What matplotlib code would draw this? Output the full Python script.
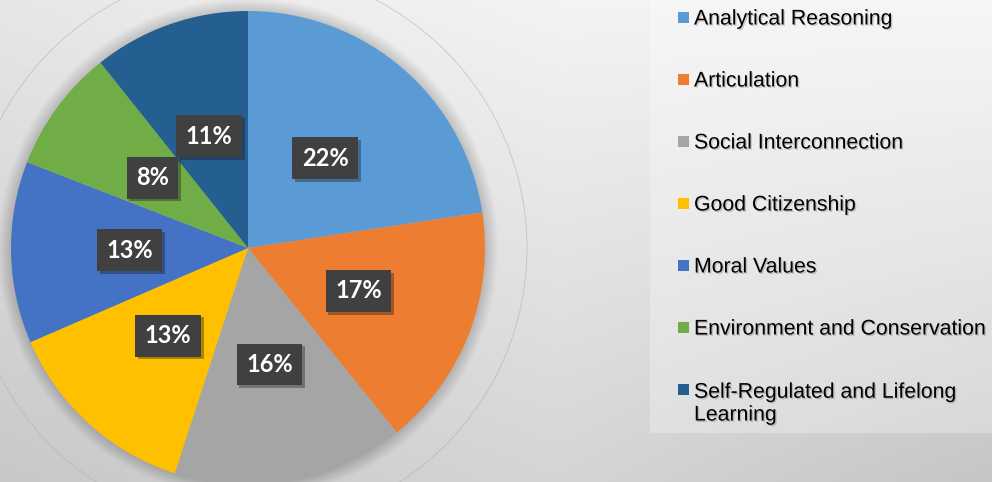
import matplotlib
matplotlib.use("Agg")
import matplotlib.pyplot as plt
import matplotlib.patheffects as pe
from matplotlib.patches import Circle, Rectangle
import numpy as np

# data (shares, labels as printed)
categories = ["Analytical Reasoning", "Articulation", "Social Interconnection",
              "Good Citizenship", "Moral Values", "Environment and Conservation",
              "Self-Regulated and Lifelong\nLearning"]
shares = [22.6, 16.6, 15.8, 13.5, 12.4, 8.4, 10.7]
pct_labels = ["22%", "17%", "16%", "13%", "13%", "8%", "11%"]
colors = ["#5B9BD5", "#ED7D31", "#A5A5A5", "#FFC000", "#4472C4", "#70AD47", "#255E91"]

W, H = 992, 482
CX, CY, R = 248, H - 248, 237

fig = plt.figure(figsize=(W / 100, H / 100), dpi=100)
ax = fig.add_axes([0, 0, 1, 1])

# grey gradient background (light at the top, darker bottom-right)
xx, yy = np.meshgrid(np.linspace(0, W, 400), np.linspace(0, H, 200))
ydown = (H - yy) / H
v = 0.955 - 0.12 * ydown
v -= 0.06 * np.clip((xx - 560) / 432, 0, 1) * ydown
v -= 0.05 * np.clip((560 - xx) / 560, 0, 1)
ax.imshow(np.dstack([v, v, v]), extent=(0, W, 0, H), origin="lower",
          aspect="auto", zorder=0)

# legend panel
ax.add_patch(Rectangle((650, H - 433), W - 650, 433, facecolor="white",
                       alpha=0.28, lw=0, zorder=1))

# faint outer ring and soft shadow around the pie
ax.add_patch(Circle((CX, CY), 279, fill=False, edgecolor="#b0b0b0", lw=0.7,
                    alpha=0.55, zorder=1))
for k in range(1, 14):
    ax.add_patch(Circle((CX, CY), R + k, facecolor="black", alpha=0.012,
                        lw=0, zorder=1))

wedges, _, autotexts = ax.pie(shares, colors=colors, startangle=90,
                              counterclock=False, center=(CX, CY), radius=R,
                              autopct="%.0f", pctdistance=0.5,
                              wedgeprops=dict(lw=0), frame=True)
for w in wedges:
    w.set_zorder(2)
ax.set_xlim(0, W)
ax.set_ylim(0, H)
ax.set_aspect("equal")
ax.axis("off")

for t, lab in zip(autotexts, pct_labels):
    t.set_text(lab)
    t.set_color("white")
    t.set_fontfamily("Lato")
    t.set_fontweight("bold")
    t.set_fontsize(17)
    t.set_zorder(4)
    t.set_bbox(dict(boxstyle="square,pad=0.4", facecolor="#404040",
                    edgecolor="none"))
    t.get_bbox_patch().set_path_effects(
        [pe.SimplePatchShadow(offset=(2, -2), alpha=0.35), pe.Normal()])

# legend entries
shadow = [pe.SimplePatchShadow(offset=(1, -1), alpha=0.18), pe.Normal()]
for i, (name, c) in enumerate(zip(categories, colors)):
    yc = H - (17 + 62 * i)
    extra = name.count("\n") * 24
    ax.add_patch(Rectangle((678, yc - 5.5), 11, 11, facecolor=c, lw=0, zorder=3))
    ax.text(694, yc - 7.5 - extra, name, fontsize=15.3, family="Liberation Sans",
            color="black", va="baseline", ha="left", linespacing=1.25, zorder=3,
            path_effects=shadow)

fig.savefig("out.png", dpi=100)
